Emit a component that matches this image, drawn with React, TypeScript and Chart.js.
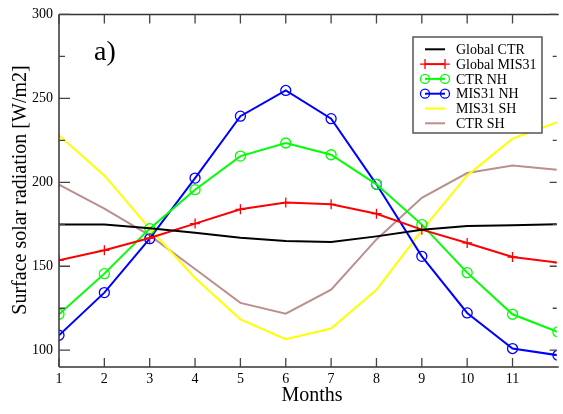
import React, { useEffect, useRef } from "react";
import { Chart, registerables } from "chart.js";

Chart.register(...registerables);

const months = [1, 2, 3, 4, 5, 6, 7, 8, 9, 10, 11, 12];
const xTicks = [1, 2, 3, 4, 5, 6, 7, 8, 9, 10, 11];
const yTicks = [100, 150, 200, 250, 300];
const yMinorTicks = [125, 175, 225, 275];

const globalCTR = [174.8, 174.8, 172.6, 170.0, 167.0, 165.0, 164.4, 167.8, 171.8, 174.0, 174.4, 175.0];
const globalMIS31 = [153.6, 159.5, 166.8, 175.4, 183.9, 187.9, 186.9, 181.3, 171.8, 163.9, 155.5, 152.2];
const ctrNH = [121.4, 145.6, 172.4, 195.6, 215.6, 223.4, 216.4, 198.8, 174.8, 146.2, 121.4, 110.9];
const mis31NH = [108.9, 134.3, 166.4, 202.5, 239.4, 254.7, 237.9, 198.8, 155.9, 122.2, 101.0, 97.0];
const mis31SH = [227.9, 204.1, 172.4, 143.0, 118.4, 106.6, 112.9, 136.0, 171.4, 204.1, 226.0, 235.9];
const ctrSH = [198.6, 184.3, 168.4, 148.4, 128.2, 121.8, 136.1, 166.0, 190.8, 205.5, 210.0, 207.5];

const seriesNames = ["Global CTR", "Global MIS31", "CTR NH", "MIS31 NH", "MIS31 SH", "CTR SH"];
const seriesColors = ["#000000", "#ff0000", "#00ff00", "#0000ff", "#ffff00", "#bc8f8f"];
const seriesMarkers: (string | false)[] = [false, "cross", "circle", "circle", false, false];

const SERIF = "'Liberation Serif', 'Times New Roman', serif";

const framePlugin = {
  id: "frameAndLegend",
  afterDatasetsDraw(chart: any) {
    const { ctx, chartArea, scales } = chart;
    const { left, right, top, bottom } = chartArea;
    const xs = scales.x;
    const ys = scales.y;
    ctx.save();
    // frame
    ctx.strokeStyle = "#333";
    ctx.lineWidth = 1.5;
    ctx.beginPath();
    ctx.moveTo(left, top);
    ctx.lineTo(left, bottom);
    ctx.moveTo(left, top);
    ctx.lineTo(right + 2, top);
    ctx.stroke();
    ctx.strokeStyle = "#666";
    ctx.lineWidth = 2;
    ctx.beginPath();
    ctx.moveTo(left, bottom);
    ctx.lineTo(right + 2, bottom);
    ctx.stroke();
    // x ticks inward (bottom and top)
    ctx.strokeStyle = "#444";
    ctx.lineWidth = 1.3;
    ctx.beginPath();
    for (const v of xTicks) {
      const px = xs.getPixelForValue(v);
      ctx.moveTo(px, bottom);
      ctx.lineTo(px, bottom - 9);
      ctx.moveTo(px, top);
      ctx.lineTo(px, top + 9);
    }
    // y ticks inward (left and right)
    for (const v of yTicks) {
      const py = ys.getPixelForValue(v);
      ctx.moveTo(left, py);
      ctx.lineTo(left + 11, py);
      ctx.moveTo(right, py);
      ctx.lineTo(right - 7, py);
    }
    for (const v of yMinorTicks) {
      const py = ys.getPixelForValue(v);
      ctx.moveTo(left, py);
      ctx.lineTo(left + 6, py);
      ctx.moveTo(right, py);
      ctx.lineTo(right - 4, py);
    }
    ctx.stroke();

    // panel label
    ctx.fillStyle = "#000";
    ctx.font = `28px ${SERIF}`;
    ctx.textAlign = "left";
    ctx.textBaseline = "alphabetic";
    ctx.fillText("a)", 94, 60);

    // axis titles
    ctx.font = `20px ${SERIF}`;
    ctx.textAlign = "center";
    ctx.textBaseline = "middle";
    ctx.fillText("Months", (left + 565) / 2, 396);
    ctx.save();
    ctx.translate(21, 190);
    ctx.rotate(-Math.PI / 2);
    ctx.fillText("Surface solar radiation [W/m2]", 0, 0);
    ctx.restore();

    // legend
    const bx = 413, by = 37, bw = 129, bh = 96;
    ctx.fillStyle = "#fff";
    ctx.fillRect(bx, by, bw, bh);
    ctx.strokeStyle = "#555";
    ctx.lineWidth = 1.5;
    ctx.strokeRect(bx, by, bw, bh);
    ctx.font = `14px ${SERIF}`;
    ctx.textAlign = "left";
    ctx.textBaseline = "middle";
    for (let i = 0; i < seriesNames.length; i++) {
      const cy = 49.3 + i * 14.8;
      const col = seriesColors[i];
      ctx.strokeStyle = col;
      ctx.lineWidth = 2;
      ctx.beginPath();
      ctx.moveTo(425, cy);
      ctx.lineTo(445, cy);
      ctx.stroke();
      const mk = seriesMarkers[i];
      if (mk === "circle") {
        ctx.lineWidth = 1.3;
        for (const mx of [425, 445]) {
          ctx.beginPath();
          ctx.arc(mx, cy, 4.5, 0, Math.PI * 2);
          ctx.stroke();
        }
      } else if (mk === "cross") {
        ctx.lineWidth = 1.3;
        ctx.beginPath();
        for (const mx of [425, 445]) {
          ctx.moveTo(mx - 5, cy);
          ctx.lineTo(mx + 5, cy);
          ctx.moveTo(mx, cy - 5);
          ctx.lineTo(mx, cy + 5);
        }
        ctx.stroke();
      }
      ctx.fillStyle = "#000";
      ctx.fillText(seriesNames[i], 456, cy + 1);
    }
    ctx.restore();
  },
};

export default function App() {
  const ref = useRef<HTMLCanvasElement | null>(null);
  useEffect(() => {
    if (!ref.current) return;
    const allSeries = [globalCTR, globalMIS31, ctrNH, mis31NH, mis31SH, ctrSH];
    const datasets = allSeries.map((vals, i) => ({
      label: seriesNames[i],
      data: months.map((m, j) => ({ x: m, y: vals[j] })),
      borderColor: seriesColors[i],
      backgroundColor: "rgba(0,0,0,0)",
      borderWidth: 2,
      pointStyle: seriesMarkers[i] || "circle",
      pointRadius: seriesMarkers[i] ? 5 : 0,
      pointBorderWidth: 1.3,
      pointBorderColor: seriesColors[i],
      pointBackgroundColor: "rgba(0,0,0,0)",
      tension: 0,
      fill: false,
    }));
    const chart = new Chart(ref.current, {
      type: "line",
      data: { datasets },
      plugins: [framePlugin],
      options: {
        animation: false,
        responsive: false,
        maintainAspectRatio: false,
        devicePixelRatio: 1,
        layout: { padding: { top: 14, left: 0, right: 0, bottom: 0 } },
        plugins: { legend: { display: false }, tooltip: { enabled: false } },
        scales: {
          x: {
            type: "linear",
            min: 1,
            max: 11.974,
            grid: { display: false, drawTicks: false },
            border: { display: false },
            afterBuildTicks: (scale: any) => {
              scale.ticks = xTicks.map((v) => ({ value: v }));
            },
            afterFit: (scale: any) => {
              scale.height = 47;
              scale.paddingLeft = 0;
              scale.paddingRight = 0;
            },
            ticks: {
              autoSkip: false,
              maxRotation: 0,
              padding: 4,
              color: "#000",
              font: { family: SERIF, size: 14 },
              callback: (v: any) => String(v),
            },
          },
          y: {
            type: "linear",
            min: 90,
            max: 300,
            grid: { display: false, drawTicks: false },
            border: { display: false },
            afterBuildTicks: (scale: any) => {
              scale.ticks = yTicks.map((v) => ({ value: v }));
            },
            afterFit: (scale: any) => {
              scale.width = 59;
            },
            ticks: {
              padding: 6,
              color: "#000",
              font: { family: SERIF, size: 14 },
              callback: (v: any) => String(v),
            },
          },
        },
      },
    });
    return () => chart.destroy();
  }, []);
  return (
    <div style={{ position: "absolute", left: 0, top: 0, width: 563, height: 414, background: "#fff" }}>
      <canvas ref={ref} width={563} height={414} style={{ width: 563, height: 414, display: "block" }} />
    </div>
  );
}
